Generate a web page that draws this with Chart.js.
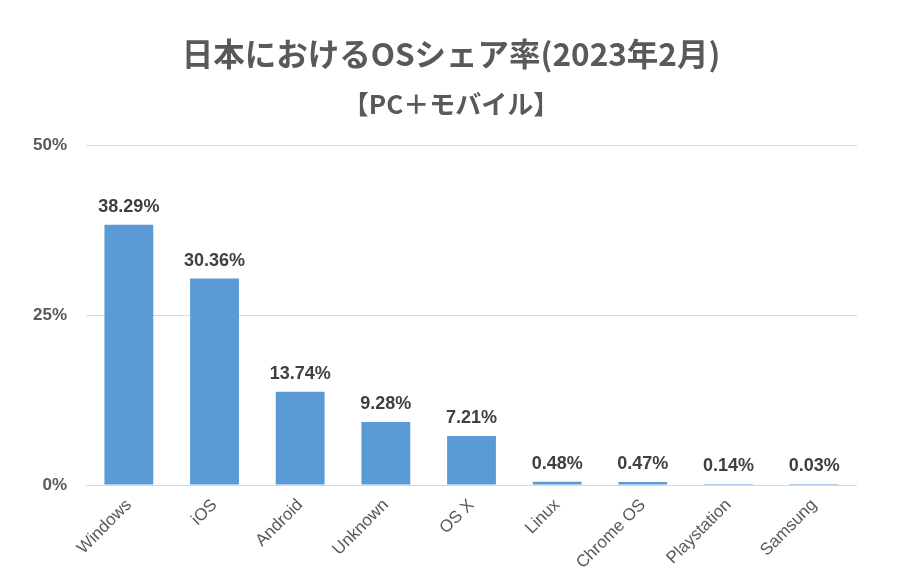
<!DOCTYPE html>
<html><head><meta charset="utf-8">
<script src="https://cdn.jsdelivr.net/npm/chart.js@4"></script>
<style>html,body{margin:0;padding:0;background:#fff}#wrap{width:902px;height:578px}</style>
</head><body><div id="wrap"><canvas id="c"></canvas></div>
<script>
const categories = ["Windows","iOS","Android","Unknown","OS X","Linux","Chrome OS","Playstation","Samsung"];
const shares = [38.29,30.36,13.74,9.28,7.21,0.48,0.47,0.14,0.03];
const yTicks = [0,25,50];
const titleText = "日本におけるOSシェア率(2023年2月)";
const subtitleText = "【PC＋モバイル】";

const labelPlugin = {
  id:'vals',
  afterDatasetsDraw(chart){
    const ctx = chart.ctx;
    const meta = chart.getDatasetMeta(0);
    ctx.save();
    ctx.font = 'bold 18px "Liberation Sans", Arial, sans-serif';
    ctx.fillStyle = '#404040';
    ctx.textAlign = 'center';
    ctx.textBaseline = 'alphabetic';
    meta.data.forEach((bar,i)=>{
      ctx.fillText(shares[i].toFixed(2)+'%', bar.x, bar.y-13);
    });
    ctx.restore();
  }
};

new Chart(document.getElementById('c'),{
  type:'bar',
  data:{labels:categories,datasets:[{data:shares,backgroundColor:'#5B9BD5',barPercentage:0.57,categoryPercentage:1,minBarLength:1}]},
  options:{
    responsive:true,maintainAspectRatio:false,animation:false,
    layout:{padding:{left:14,right:14,top:35,bottom:3}},
    plugins:{
      legend:{display:false},tooltip:{enabled:false},
      title:{display:true,text:titleText,color:'#595959',font:{family:'"Noto Sans CJK JP", sans-serif',size:31.5,weight:'bold'},padding:{top:0,bottom:16}},
      subtitle:{display:true,text:subtitleText,color:'#595959',font:{family:'"Noto Sans CJK JP", sans-serif',size:26,weight:'bold'},padding:{top:0,bottom:25}}
    },
    scales:{
      x:{grid:{display:false},border:{display:false},
         ticks:{color:'#595959',minRotation:45,maxRotation:45,font:{family:'"Liberation Sans", Arial, sans-serif',size:17},padding:2}},
      y:{min:0,max:50,afterBuildTicks(ax){ax.ticks=yTicks.map(v=>({value:v}));},
         grid:{color:'#d9d9d9',drawTicks:false},border:{display:false},
         ticks:{color:'#595959',padding:19,font:{family:'"Liberation Sans", Arial, sans-serif',size:17,weight:'bold'},callback:v=>v+'%'}},
      yR:{position:'right',display:true,grid:{display:false},border:{display:false},ticks:{display:false},
         afterFit(ax){ax.width=31;}}
    }
  },
  plugins:[labelPlugin]
});
</script></body></html>
